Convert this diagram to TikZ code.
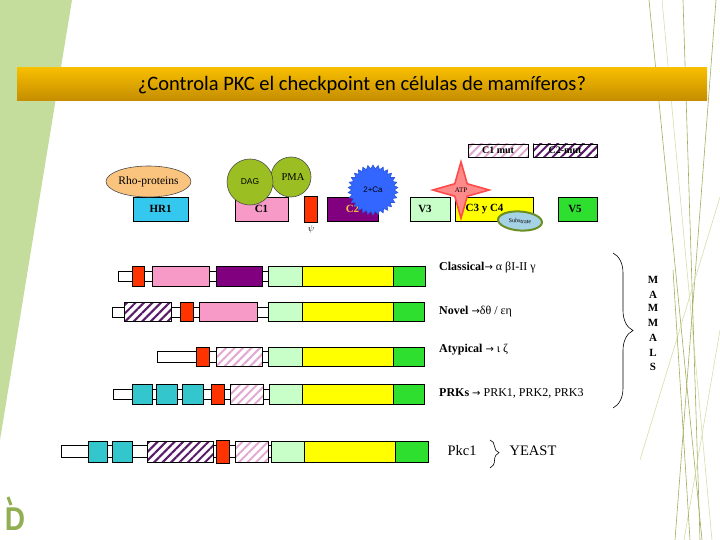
\documentclass[tikz,border=0pt]{standalone}
\usepackage{fontspec}
\setmainfont{Liberation Serif}
\newfontfamily\titlefont{Carlito}
\newfontfamily\sansf{Liberation Sans}
\newfontfamily\arrf{DejaVu Sans}
\newcommand\rar{{\arrf\fontsize{10}{12}\selectfont →}}
\usetikzlibrary{shapes.geometric,patterns.meta,decorations.pathreplacing}
\definecolor{cgreenbg}{HTML}{C4DD9C}
\definecolor{cdeco}{HTML}{A4AC5C}
\definecolor{cdecol}{HTML}{D6DEAA}
\definecolor{ctop}{HTML}{F7BE00}
\definecolor{cbot}{HTML}{C48C00}
\definecolor{cred}{HTML}{FF3300}
\definecolor{cpink}{HTML}{F79AC8}
\definecolor{cpurp}{HTML}{800080}
\definecolor{cv3}{HTML}{C8FFC8}
\definecolor{cyel}{HTML}{FFFF00}
\definecolor{cv5}{HTML}{2FDF2F}
\definecolor{ccyan}{HTML}{33C6CC}
\definecolor{chr}{HTML}{35C8EE}
\definecolor{chpurp}{HTML}{5A1A6A}
\definecolor{chpink}{HTML}{E2AAD2}
\definecolor{corange}{HTML}{FAC47E}
\definecolor{colive}{HTML}{9BBE22}
\definecolor{cca}{HTML}{3366FF}
\definecolor{catp}{HTML}{FF8A8A}
\definecolor{catpd}{HTML}{FF4A4A}
\definecolor{csub}{HTML}{A6D2E6}
\definecolor{csubd}{HTML}{6B8E23}
\definecolor{clogo}{HTML}{92AE52}
\definecolor{cc2t}{HTML}{F0C040}
\newcommand\bx[7]{\node[dbox,#6,minimum width={(#3-#2)*1pt},minimum height={(#5-#4)*1pt}] (#1) at ({(#2+#3)/2},{(#4+#5)/2}) {#7};}
\tikzset{
  dbox/.style={rectangle,draw=black,line width=0.7pt,inner sep=0pt,outer sep=0pt},
  stub/.style={fill=white},
  redb/.style={fill=cred},
  pinkb/.style={fill=cpink},
  purpb/.style={fill=cpurp},
  v3b/.style={fill=cv3},
  yelb/.style={fill=cyel},
  v5b/.style={fill=cv5},
  cyanb/.style={fill=ccyan},
  hrb/.style={fill=chr},
  hpurp/.style={preaction={fill=white},pattern={Lines[angle=45,distance=6pt,line width=2pt]},pattern color=chpurp},
  hpink/.style={preaction={fill=white},pattern={Lines[angle=45,distance=6pt,line width=2pt]},pattern color=chpink},
  dlab/.style={font=\fontsize{11}{13}\selectfont\bfseries},
  rlab/.style={anchor=west,inner sep=0pt,font=\fontsize{12}{14}\selectfont},
  mlet/.style={font=\fontsize{11}{13}\selectfont\bfseries,inner sep=0pt},
  deco/.style={cdeco,line width=0.6pt},
  decol/.style={cdecol,line width=0.6pt}
}
\begin{document}
\begin{tikzpicture}[x=1pt,y=-1pt]
\useasboundingbox (0,0) rectangle (720,540);
% background decoration
\fill[cgreenbg] (0,0) -- (72,0) -- (0,440) -- cycle;
\draw[deco] (649,0) -- (702,540);
\draw[decol] (662,0) -- (712,540);
\draw[deco] (683,0) -- (700,540);
\draw[deco] (716,0) -- (675,540);
\draw[decol] (720,197) -- (640,460);
\draw[decol] (720,330) -- (684,540);
\draw[deco] (673,270) -- (690,540);
% title bar
\shade[top color=ctop,bottom color=cbot] (17,68) rectangle (707,101);
\node[font=\titlefont\fontsize{20.5}{24}\selectfont] (title) at (362,85) {¿Controla PKC el checkpoint en células de mamíferos?};
% logo
\node[font=\sansf\bfseries\fontsize{33}{33}\selectfont,text=clogo,inner sep=0pt,xscale=0.85] (logo) at (15,519) {D};
\draw[clogo,line width=3pt] (8,497) -- (11,505);

% ===== top domain map =====
\bx{hr1}{133}{188}{197}{221}{hrb}{\fontsize{11}{13}\selectfont\bfseries HR1}
\node[ellipse,draw=black!70,line width=0.6pt,fill=corange,minimum width=77pt,minimum height=31pt,inner sep=0pt,font=\fontsize{11.5}{13}\selectfont] (rho) at (148.5,181.5) {Rho-proteins};
\bx{c1}{235}{288}{197}{221}{pinkb}{\fontsize{11}{13}\selectfont\bfseries C1}
\node[circle,draw=black!70,line width=0.6pt,fill=colive,minimum size=40pt,inner sep=0pt,font=\fontsize{10.5}{12}\selectfont] (pma) at (291,177) {\hspace*{4pt}PMA};
\node[circle,draw=black!70,line width=0.6pt,fill=colive,minimum size=46pt,inner sep=0pt,font=\sansf\fontsize{8.5}{10}\selectfont] (dag) at (250,182) {DAG};
\bx{psi}{304}{317}{196}{222}{redb}{}
\node[font=\fontsize{9}{10}\selectfont,inner sep=0pt] (psil) at (311,229) {$\psi$};
\bx{c2}{327}{378}{197}{221}{purpb}{\fontsize{11}{13}\selectfont\bfseries\color{cc2t}C2}
\node[star,star points=30,star point ratio=1.18,draw=cca!85!black,line width=0.6pt,fill=cca,minimum size=50pt,inner sep=0pt,font=\sansf\fontsize{8}{9}\selectfont] (ca) at (373,190) {2+Ca};
\bx{v3}{410}{450}{197}{221}{v3b}{}
\node[dlab,inner sep=0pt] (v3l) at (425,209) {V3};
\bx{c34}{455}{533}{197}{221}{yelb}{}
\node[dlab,inner sep=0pt] (c34l) at (484.5,209) {C3 y C4};
\bx{v5}{558}{597}{197}{221}{v5b}{}
\node[dlab,inner sep=0pt] (v5l) at (575,209) {V5};
\bx{c1m}{468}{528}{144}{157}{hpink}{\fontsize{10}{12}\selectfont\bfseries C1 mut}
\bx{c2m}{533}{597}{144}{157}{hpurp}{\fontsize{10}{12}\selectfont\bfseries C2-mut}
\node[star,star points=4,star point ratio=3.2,draw=catpd,line width=1.6pt,fill=catp,minimum size=44pt,inner sep=0pt,font=\fontsize{7}{8}\selectfont] (atp) at (461,190) {ATP};
\node[ellipse,rotate=-4,draw=csubd,line width=2pt,fill=csub,minimum width=44pt,minimum height=19pt,inner sep=0pt,font=\fontsize{6}{7}\selectfont] (sub) at (520,221) {Substrate};

% ===== row 1: classical =====
\bx{r1s}{118}{268}{271}{281}{stub}{}
\bx{r1a}{132}{144}{266}{286}{redb}{}
\bx{r1b}{152}{209}{266}{286}{pinkb}{}
\bx{r1c}{216}{262}{266}{286}{purpb}{}
\bx{r1d}{268}{302}{266}{286}{v3b}{}
\bx{r1e}{302}{393}{266}{286}{yelb}{}
\bx{r1f}{393}{425}{266}{286}{v5b}{}
% ===== row 2: novel =====
\bx{r2s}{112}{268}{307}{317}{stub}{}
\bx{r2a}{124}{171}{302}{321}{hpurp}{}
\bx{r2b}{180}{193}{302}{321}{redb}{}
\bx{r2c}{199}{257}{302}{321}{pinkb}{}
\bx{r2d}{268}{302}{302}{321}{v3b}{}
\bx{r2e}{302}{393}{302}{321}{yelb}{}
\bx{r2f}{393}{424}{302}{321}{v5b}{}
% ===== row 3: atypical =====
\bx{r3s}{157}{268}{351}{362}{stub}{}
\bx{r3a}{196}{209}{347}{366}{redb}{}
\bx{r3b}{216}{262}{347}{366}{hpink}{}
\bx{r3d}{268}{302}{347}{366}{v3b}{}
\bx{r3e}{302}{393}{347}{366}{yelb}{}
\bx{r3f}{393}{424}{347}{366}{v5b}{}
% ===== row 4: PRKs =====
\bx{r4s}{113}{269}{389}{399}{stub}{}
\bx{r4a}{132}{152}{384}{404}{cyanb}{}
\bx{r4b}{156}{177}{384}{404}{cyanb}{}
\bx{r4c}{182}{203}{384}{404}{cyanb}{}
\bx{r4g}{211}{224}{384}{404}{redb}{}
\bx{r4h}{230}{263}{384}{404}{hpink}{}
\bx{r4d}{269}{302}{384}{404}{v3b}{}
\bx{r4e}{302}{393}{384}{404}{yelb}{}
\bx{r4f}{393}{424}{384}{404}{v5b}{}
% ===== row 5: Pkc1 =====
\bx{r5s}{61}{272}{445}{457}{stub}{}
\bx{r5a}{88}{107}{441}{462}{cyanb}{}
\bx{r5b}{112}{132}{441}{462}{cyanb}{}
\bx{r5c}{147}{213}{441}{462}{hpurp}{}
\bx{r5g}{216}{229}{440}{463}{redb}{}
\bx{r5h}{235}{268}{441}{462}{hpink}{}
\bx{r5d}{271}{304}{441}{462}{v3b}{}
\bx{r5e}{304}{395}{441}{462}{yelb}{}
\bx{r5f}{395}{428}{441}{462}{v5b}{}

% ===== labels =====
\node[rlab] (lcl) at (439,268) {\textbf{Classical}\rar\ α βI-II γ};
\node[rlab] (lno) at (439,312) {\textbf{Novel} \rar δθ / εη};
\node[rlab] (lat) at (439,350) {\textbf{Atypical} \rar\ ι ζ};
\node[rlab] (lpr) at (439,393) {\textbf{PRKs} \rar\ PRK1, PRK2, PRK3};
\coordinate (bt) at (613,253);
\coordinate (bb) at (613,408);
\draw[line width=0.6pt,decorate,decoration={brace,amplitude=20pt,aspect=0.5}] (bt) -- (bb);
\foreach \l/\yy [count=\i] in {M/280,A/295,M/308,M/323,A/338,L/353,S/367}
  \node[mlet] (m\i) at (653,\yy) {\l};
\node[font=\fontsize{14.5}{16}\selectfont,inner sep=0pt] (pkc) at (462,451) {Pkc1};
\coordinate (yt) at (490,440);
\coordinate (yb) at (490,468);
\draw[line width=0.6pt,decorate,decoration={brace,amplitude=9pt,aspect=0.45}] (yt) -- (yb);
\node[font=\fontsize{14.5}{16}\selectfont,inner sep=0pt] (yeast) at (533,451) {YEAST};
\end{tikzpicture}
\end{document}
